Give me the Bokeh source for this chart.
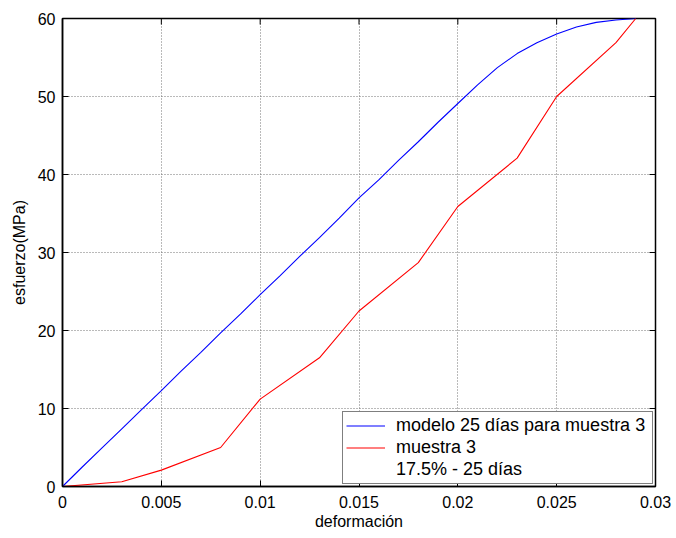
import math
from bokeh.plotting import figure
from bokeh.models import FixedTicker, Range1d, Legend, LegendItem
from bokeh.embed import file_html
from bokeh.resources import INLINE

# Model curve (blue)
model_x = [0.0, 0.001, 0.002, 0.003, 0.004, 0.005, 0.006, 0.007, 0.008, 0.009,
           0.010, 0.011, 0.012, 0.013, 0.014, 0.015, 0.016, 0.017, 0.018, 0.019,
           0.020, 0.021, 0.022, 0.023, 0.024, 0.025, 0.026, 0.027, 0.028, 0.029]
model_y = [0.0, 2.5, 4.95, 7.4, 9.85, 12.3, 14.8, 17.2, 19.7, 22.1,
           24.6, 27.0, 29.5, 31.9, 34.4, 37.0, 39.3, 41.8, 44.2, 46.7,
           49.1, 51.5, 53.7, 55.5, 56.9, 58.0, 58.9, 59.5, 59.8, 60.0]

# Sample 3 measurements (red)
sample_x = [0.0, 0.003, 0.005, 0.008, 0.010, 0.013, 0.015, 0.018, 0.020, 0.023, 0.025, 0.028, 0.029]
sample_y = [0.0, 0.6, 2.1, 5.0, 11.2, 16.5, 22.5, 28.7, 35.9, 42.1, 50.0, 56.9, 60.0]

x_ticks = [0.0, 0.005, 0.01, 0.015, 0.02, 0.025, 0.03]
x_tick_labels = ["0", "0.005", "0.01", "0.015", "0.02", "0.025", "0.03"]
y_ticks = [0, 10, 20, 30, 40, 50, 60]
x_max = 0.03
y_max = 60

labels = ["modelo 25 días para muestra 3", "muestra 3", "17.5% - 25 días"]

FONT = "Liberation Sans"

p = figure(frame_width=593, frame_height=468, output_backend="svg", toolbar_location=None,
           x_range=Range1d(0, x_max), y_range=Range1d(0, y_max),
           min_border_left=62, min_border_right=19, min_border_top=18, min_border_bottom=50)
p.background_fill_color = "white"
p.border_fill_color = "white"
p.outline_line_color = "black"
p.outline_line_width = 1.5

r_model = p.line(model_x, model_y, line_color="#0000FF", line_width=1.1)
r_sample = p.line(sample_x, sample_y, line_color="#FF0000", line_width=1.1)
r_note = p.line(sample_x, sample_y, line_color="#FF0000", line_alpha=0, line_width=1)

# inward ticks on the top and right edges (half of each dash is clipped by the frame)
p.scatter(x_ticks, [y_max] * len(x_ticks), marker="dash", size=12, angle=math.pi / 2,
          line_color="black", line_width=1)
p.scatter([x_max] * len(y_ticks), y_ticks, marker="dash", size=12,
          line_color="black", line_width=1)

xt = FixedTicker(ticks=x_ticks)
yt = FixedTicker(ticks=y_ticks)

for ax in p.xaxis:
    ax.ticker = xt
    ax.major_label_overrides = {t: l for t, l in zip(x_ticks, x_tick_labels)}
    ax.axis_label = "deformación"
    ax.major_label_standoff = 9
    ax.axis_label_standoff = 2
for ax in p.yaxis:
    ax.ticker = yt
    ax.axis_label = "esfuerzo(MPa)"
    ax.major_label_standoff = 7
    ax.axis_label_standoff = 7

for ax in list(p.xaxis) + list(p.yaxis):
    ax.major_label_text_font = FONT
    ax.major_label_text_font_size = "16px"
    ax.major_label_text_color = "black"
    ax.axis_label_text_font = FONT
    ax.axis_label_text_font_size = "16px"
    ax.axis_label_text_font_style = "normal"
    ax.axis_label_text_color = "black"
    ax.axis_line_color = "black"
    ax.axis_line_width = 1.5
    ax.major_tick_in = 6
    ax.major_tick_out = 0
    ax.major_tick_line_color = "black"
    ax.minor_tick_line_color = None

for g in list(p.xgrid) + list(p.ygrid):
    g.grid_line_color = "#666666"
    g.grid_line_dash = "1 2"
    g.grid_line_width = 1
    g.grid_line_alpha = 0.9

p.xgrid.ticker = xt
p.ygrid.ticker = yt

legend = Legend(items=[LegendItem(label=labels[0], renderers=[r_model]),
                       LegendItem(label=labels[1], renderers=[r_sample]),
                       LegendItem(label=labels[2], renderers=[r_note])],
                location="bottom_right")
legend.margin = 2
legend.padding = 3
legend.spacing = 1
legend.glyph_width = 39
legend.glyph_height = 21
legend.label_height = 21
legend.label_width = 253
legend.label_standoff = 11
legend.label_text_font = FONT
legend.label_text_font_size = "18px"
legend.label_text_color = "black"
legend.border_line_color = "black"
legend.border_line_width = 1.5
legend.background_fill_color = "white"
legend.background_fill_alpha = 1
p.add_layout(legend, "center")

open("out.html", "w").write(file_html(p, INLINE))
